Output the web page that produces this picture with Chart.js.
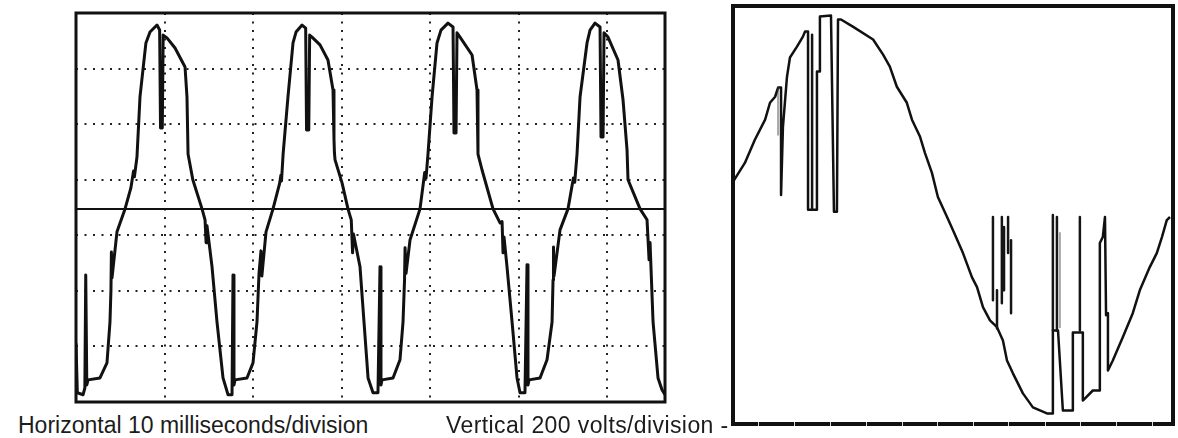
<!DOCTYPE html>
<html>
<head>
<meta charset="utf-8">
<script src="https://cdn.jsdelivr.net/npm/chart.js@4.4.1/dist/chart.umd.min.js"></script>
<style>
  html, body { margin: 0; padding: 0; background: #fff; }
  body { width: 1178px; height: 438px; position: relative; overflow: hidden;
         font-family: "Liberation Sans", Arial, sans-serif; }
  .box { position: absolute; }
  .label { position: absolute; font-size: 23px; line-height: 26px; color: #1c1c1c; white-space: nowrap; }
</style>
</head>
<body>
<div class="box" style="left:70px; top:7px; width:601px; height:401px"><canvas id="scopeChart"></canvas></div>
<div class="box" style="left:725px; top:-2px; width:456px; height:434px"><canvas id="zoomChart"></canvas></div>
<div class="label" style="left:18px; top:412px">Horizontal 10 milliseconds/division</div>
<div class="label" style="left:446px; top:412px; letter-spacing:0.4px">Vertical 200 volts/division -</div>

<script>
// ---------------------------
// Data (left) : ms / volts
// ---------------------------
const scopeTimeMs = [
  0.00, 0.15, 0.80, 1.00, 1.10, 1.22, 1.36, 2.71, 3.50, 3.84, 3.95, 4.00, 4.07, 4.63, 5.54,
  6.20, 6.50, 6.60, 6.89, 7.23, 7.90, 8.36, 9.15, 9.45, 9.55, 9.75, 9.85, 10.28, 11.19, 12.32,
  12.54, 12.66, 13.20, 14.24, 14.58, 14.70, 14.80, 15.37, 15.93, 16.61, 17.18, 17.63, 17.74,
  17.85, 17.97, 19.32, 20.00, 20.45, 20.68, 20.90, 21.00, 21.47, 22.26,
  23.00, 23.15, 23.22, 23.40, 23.95, 24.52, 24.86, 25.54, 25.95, 26.05, 26.30, 26.40, 26.67,
  27.57, 28.47, 29.04, 29.15, 29.20, 29.27, 30.06, 30.73, 31.10, 31.25, 31.35, 32.09, 32.54,
  33.00, 33.56, 34.12, 34.35, 34.46, 34.58, 35.82, 36.61, 36.95, 37.12, 37.18, 37.29, 37.74, 38.87,
  39.40, 39.55, 39.77, 40.23, 40.79, 41.24, 42.03, 42.60, 42.71, 42.94, 43.05, 43.39, 44.75,
  45.31, 45.42, 45.88, 47.12, 47.91, 48.14, 48.25, 48.36, 48.70, 49.27, 49.83, 50.17, 50.73,
  50.96, 51.07, 51.19, 52.43, 53.22, 53.79, 53.90, 53.95, 54.01, 54.69, 55.59,
  56.20, 56.35, 56.61, 56.95, 57.74, 58.08, 58.64, 59.21, 59.32, 59.55, 59.66, 60.11, 61.24,
  61.81, 62.26, 62.37, 63.73, 64.52, 64.75, 64.86, 65.20, 65.76, 66.21, 66.55
];
const scopeVolts = [
  -480, -657, -664, -640, -236, -629, -611, -604, -550, -404, -289, -154, -246, -82, 0,
  75, 135, 115, 186, 400, 593, 632, 657, 639, 289, 289, 621, 611, 575, 507,
  400, 196, 104, 0, -39, -121, -60, -207, -404, -604, -664, -664, -236,
  -629, -611, -604, -550, -404, -230, -150, -240, -82, 0,
  90, 120, 100, 196, 400, 593, 632, 657, 646, 282, 282, 621, 614,
  586, 532, 425, 250, 200, 175, 93, 0, -39, -157, -90, -207, -404,
  -604, -657, -657, -207, -629, -611, -604, -539, -404, -254, -139, -230, -111, 0,
  130, 110, 196, 400, 593, 639, 664, 650, 271, 271, 629, 614, 550,
  425, 196, 139, 0, -50, -45, -157, -100, -207, -404, -604, -657, -657,
  -200, -629, -611, -604, -539, -404, -254, -136, -240, -75, 0,
  110, 95, 196, 400, 593, 639, 664, 650, 257, 257, 629, 614, 532,
  389, 211, 104, 0, -39, -182, -120, -404, -604, -646, -664
];
const scopeTimeMax = 66.55;   // ms across the screen
const scopeVoltMin = -690;
const scopeVoltMax = 700;
const msPerDivision = 10;
const voltsPerDivision = 200;

// ---------------------------
// Expanded single cycle (right) : ms / volts
// ---------------------------
const zoomTimeMs = [
  0.00, 0.44, 0.81, 1.19, 1.37, 1.56, 1.67, 1.78, 1.78, 1.85, 2.00, 2.11, 2.37, 2.59, 2.67,
  2.78, 2.78, 3.11, 3.11, 3.22, 3.22, 3.63, 3.74, 3.85, 3.89, 4.00, 4.44, 5.19, 5.56, 5.81,
  6.07, 6.44, 6.63, 6.93, 7.11, 7.37, 7.59, 7.93, 8.15, 8.52, 8.85, 9.04, 9.26, 9.52, 9.78,
  10.00, 10.15, 10.37, 10.74, 11.11, 11.63, 11.85, 11.85, 12.04, 12.22, 12.59, 12.59, 12.96,
  12.96, 13.33, 13.56, 13.59, 13.70, 13.78, 13.82, 13.89, 13.89, 14.07, 14.44, 14.81, 15.07,
  15.44, 15.70, 15.89, 16.07, 16.19
];
const zoomVolts = [
  116, 182, 263, 333, 392, 413, 445, 445, 70, 308, 483, 550, 588, 623, 641,
  641, 18, 18, 501, 501, 693, 697, 11, 11, 683, 683, 658, 613, 560, 518,
  448, 392, 333, 273, 217, 147, 63, -7, -53, -133, -217, -252, -322, -368, -392,
  -438, -508, -553, -623, -672, -693, -693, -403, -403, -683, -683, -410, -410,
  -648, -613, -613, -98, -77, -7, -350, -343, -543, -508, -427, -343, -263,
  -182, -133, -77, -18, -7
];
// switching transients drawn as separate vertical strokes
const spikeTimeMs   = [2.93, 9.63, 9.78, 9.96, 10.04, 10.19, 10.30, 11.85, 12.00, 12.85];
const spikeTopV     = [630, -7, -263, -7, -42, -7, -88, 0, -7, -7];
const spikeBottomV  = [18, -298, -396, -308, -263, -133, -343, -403, -403, -403];
const faintSpikeTimeMs  = [1.67, 12.11];
const faintSpikeTopV    = [445, -63];
const faintSpikeBottomV = [280, -392];
const zoomTimeMax = 16.3;
const zoomVoltLimit = 730;
const zoomBorderTicksMs = [0.93, 2.26, 3.59, 4.93, 6.26, 7.56, 8.89, 10.19, 11.56, 12.85, 14.19, 15.52];

// ---------------------------
// helpers
// ---------------------------
function toPoints(xs, ys) {
  return xs.map((x, i) => ({ x: x, y: ys[i] }));
}
function toStrokes(xs, tops, bottoms) {
  const pts = [];
  xs.forEach((x, i) => {
    pts.push({ x: x, y: tops[i] });
    pts.push({ x: x, y: bottoms[i] });
    pts.push({ x: x, y: null });
  });
  return pts;
}

const framePlugin = {
  id: "frame",
  beforeDatasetsDraw(chart, args, opts) {
    if (!opts.zeroLine) return;
    const { ctx, chartArea: a } = chart;
    const y0 = chart.scales.y.getPixelForValue(0);
    ctx.save();
    ctx.strokeStyle = "#111";
    ctx.lineWidth = 2;
    ctx.beginPath();
    ctx.moveTo(a.left, y0);
    ctx.lineTo(a.right, y0);
    ctx.stroke();
    ctx.restore();
  },
  afterDraw(chart, args, opts) {
    const { ctx, chartArea: a } = chart;
    ctx.save();
    ctx.strokeStyle = "#111";
    ctx.lineWidth = opts.width;
    ctx.strokeRect(a.left, a.top, a.right - a.left, a.bottom - a.top);
    // little gaps in the bottom edge of the right frame
    if (opts.bottomTicks) {
      ctx.strokeStyle = "#d8d8d8";
      ctx.lineWidth = 1;
      opts.bottomTicks.forEach((t) => {
        const x = Math.round(chart.scales.x.getPixelForValue(t)) + 0.5;
        ctx.beginPath();
        ctx.moveTo(x, a.bottom - opts.width / 2);
        ctx.lineTo(x, a.bottom + opts.width / 2);
        ctx.stroke();
      });
    }
    ctx.restore();
  },
};

const baseOptions = {
  animation: false,
  responsive: true,
  maintainAspectRatio: false,
  plugins: { legend: { display: false }, tooltip: { enabled: false } },
  elements: {
    point: { radius: 0, hoverRadius: 0 },
    line: { tension: 0, borderJoinStyle: "round", borderCapStyle: "butt" },
  },
};

// ---------------------------
// Left: oscilloscope screen
// ---------------------------
const dottedGrid = { color: "#222", lineWidth: 2, drawTicks: false };
const dottedBorder = { display: false, dash: [2, 6.5] };

new Chart(document.getElementById("scopeChart"), {
  type: "line",
  data: {
    datasets: [{
      data: toPoints(scopeTimeMs, scopeVolts),
      borderColor: "#111",
      borderWidth: 3,
      fill: false,
    }],
  },
  options: {
    ...baseOptions,
    layout: { padding: 6 },
    scales: {
      x: { type: "linear", min: 0, max: scopeTimeMax,
           ticks: { display: false, stepSize: msPerDivision }, grid: dottedGrid, border: dottedBorder },
      y: { type: "linear", min: scopeVoltMin, max: scopeVoltMax,
           ticks: { display: false, stepSize: voltsPerDivision }, grid: dottedGrid, border: dottedBorder },
    },
    plugins: { ...baseOptions.plugins, frame: { width: 3, zeroLine: true } },
  },
  plugins: [framePlugin],
});

// ---------------------------
// Right: one cycle expanded
// ---------------------------
new Chart(document.getElementById("zoomChart"), {
  type: "line",
  data: {
    datasets: [
      { data: toStrokes(faintSpikeTimeMs, faintSpikeTopV, faintSpikeBottomV),
        borderColor: "rgba(60,60,60,0.45)", borderWidth: 2, spanGaps: false },
      { data: toStrokes(spikeTimeMs, spikeTopV, spikeBottomV),
        borderColor: "#151515", borderWidth: 2.5, spanGaps: false },
      { data: toPoints(zoomTimeMs, zoomVolts),
        borderColor: "#111", borderWidth: 2.5 },
    ],
  },
  options: {
    ...baseOptions,
    layout: { padding: 8 },
    scales: {
      x: { type: "linear", display: false, min: 0, max: zoomTimeMax },
      y: { type: "linear", display: false, min: -zoomVoltLimit, max: zoomVoltLimit },
    },
    plugins: { ...baseOptions.plugins, frame: { width: 4, bottomTicks: zoomBorderTicksMs } },
  },
  plugins: [framePlugin],
});
</script>
</body>
</html>
